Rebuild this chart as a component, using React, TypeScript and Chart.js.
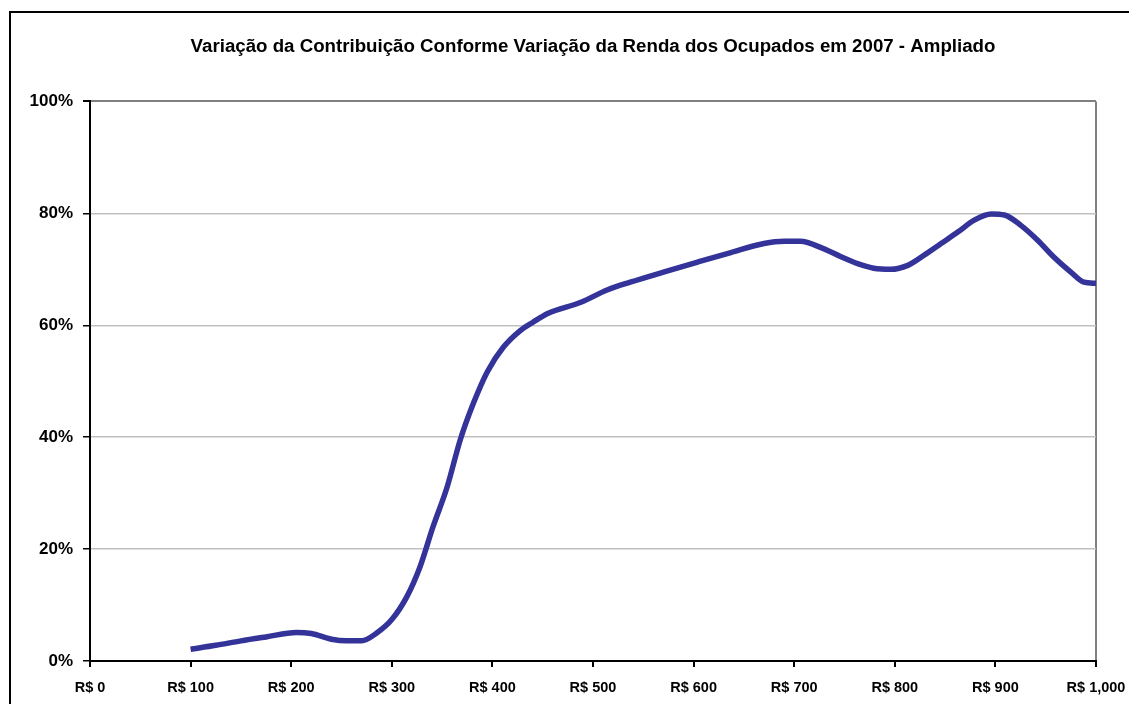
import React, { useEffect, useRef } from "react";
import { Chart, registerables } from "chart.js";

Chart.register(...registerables);

const TITLE = "Variação da Contribuição Conforme Variação da Renda dos Ocupados em 2007 - Ampliado";

const incomes = [100, 125, 150, 175, 205, 220, 240, 255, 270, 285, 300, 315, 328, 341, 355, 368, 381, 395, 411, 428, 440, 455, 488, 514, 537, 570, 604, 637, 670, 690, 706, 729, 746, 763, 779, 796, 813, 829, 846, 863, 879, 896, 909, 925, 942, 958, 975, 988, 1000];
const contribution = [2.1, 2.8, 3.6, 4.3, 5.1, 4.9, 3.9, 3.6, 3.6, 5.0, 7.4, 11.5, 16.8, 24.0, 31.1, 39.5, 46.0, 51.7, 56.1, 59.1, 60.5, 62.1, 64.1, 66.3, 67.7, 69.5, 71.3, 73.0, 74.6, 75.0, 75.0, 73.7, 72.3, 71.0, 70.2, 70.0, 70.7, 72.5, 74.6, 76.7, 78.8, 79.9, 79.7, 77.9, 75.2, 72.2, 69.5, 67.7, 67.5];

const xMin = 0;
const xMax = 1000;
const xStep = 100;
const yMin = 0;
const yMax = 100;
const yStep = 20;

const FONT = "'Liberation Sans', Arial, sans-serif";

export default function App() {
  const canvasRef = useRef<HTMLCanvasElement | null>(null);

  useEffect(() => {
    if (!canvasRef.current) return;
    const points = incomes.map((x, i) => ({ x, y: contribution[i] }));
    const chart = new Chart(canvasRef.current, {
      type: "line",
      data: {
        datasets: [
          {
            data: points,
            borderColor: "#333399",
            borderWidth: 5.5,
            pointRadius: 0,
            cubicInterpolationMode: "monotone",
            fill: false,
          },
        ],
      },
      options: {
        animation: false,
        responsive: false,
        maintainAspectRatio: false,
        layout: { padding: { left: 0, right: 33, top: 0, bottom: 0 } },
        plugins: {
          legend: { display: false },
          tooltip: { enabled: false },
          title: {
            display: true,
            text: TITLE,
            fullSize: false,
            color: "#000",
            font: { family: FONT, size: 18.7, weight: "bold", lineHeight: 1.2 },
            padding: { top: 36, bottom: 43 },
          },
        },
        scales: {
          x: {
            type: "linear",
            min: xMin,
            max: xMax,
            afterFit: (scale: any) => {
              scale.height = 43;
              scale.paddingLeft = 0;
              scale.paddingRight = 0;
            },
            ticks: {
              stepSize: xStep,
              color: "#000",
              padding: 12,
              maxRotation: 0,
              autoSkip: false,
              font: { family: FONT, size: 14.5, weight: "bold" },
              callback: (v: any) => "R$ " + Number(v).toLocaleString("en-US"),
            },
            grid: {
              drawOnChartArea: true,
              color: (ctx: any) => (ctx.tick && ctx.tick.value === xMax ? "#808080" : "rgba(0,0,0,0)"),
              lineWidth: 2,
              tickColor: "#000",
              tickLength: 6,
            },
            border: { display: true, color: "#000", width: 2 },
          },
          y: {
            min: yMin,
            max: yMax,
            afterFit: (scale: any) => {
              scale.width = 90;
            },
            ticks: {
              stepSize: yStep,
              color: "#000",
              padding: 10,
              font: { family: FONT, size: 17, weight: "bold" },
              callback: (v: any) => v + "%",
            },
            grid: {
              color: (ctx: any) => (ctx.tick && ctx.tick.value === yMax ? "#808080" : "#c0c0c0"),
              lineWidth: (ctx: any) => (ctx.tick && ctx.tick.value === yMax ? 2 : 1.5),
              tickColor: "#000",
              tickLength: 7,
            },
            border: { display: true, color: "#000", width: 2 },
          },
        },
      },
    });
    return () => chart.destroy();
  }, []);

  return (
    <div style={{ position: "absolute", left: 0, top: 0, width: 1129, height: 704, overflow: "hidden", background: "#fff" }}>
      <div
        style={{
          position: "absolute",
          left: 9,
          top: 11,
          width: 1300,
          height: 900,
          border: "2px solid #000",
          boxSizing: "border-box",
        }}
      />
      <canvas ref={canvasRef} width={1129} height={704} style={{ position: "absolute", left: 0, top: 0 }} />
    </div>
  );
}
